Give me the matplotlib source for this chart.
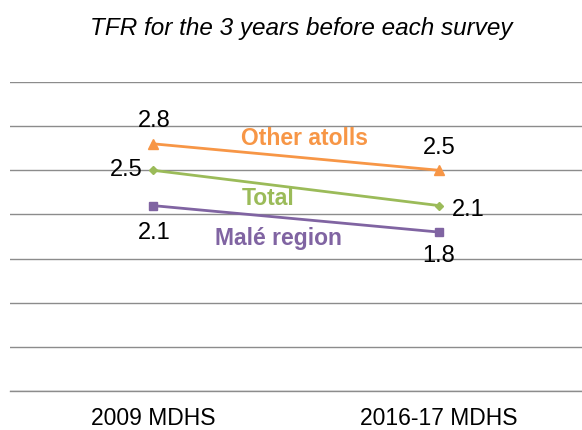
import numpy as np
import matplotlib.pyplot as plt

plt.rcParams["font.family"] = ["Liberation Sans", "DejaVu Sans"]

# data
surveys = ["2009 MDHS", "2016-17 MDHS"]
other_atolls = [2.8, 2.5]
total = [2.5, 2.1]
male_region = [2.1, 1.8]

orange = "#F79646"
green = "#9BBB59"
purple = "#8064A2"

W, H = 582, 430
fig = plt.figure(figsize=(W / 100, H / 100), dpi=100)
ax = fig.add_axes([10 / W, 1 - 391 / H, 572 / W, (391 - 82) / H])

x = np.arange(len(surveys))
ax.plot(x, other_atolls, color=orange, lw=2, marker="^", ms=6.5, zorder=3)
ax.plot(x, total, color=green, lw=2, marker="D", ms=4.5, zorder=3)
ax.plot(x, male_region, color=purple, lw=2, marker="s", ms=5.5, zorder=3)

ax.set_xlim(-0.5, 1.5)
ax.set_ylim(0, 3.5)
ax.set_yticks(np.arange(0, 3.51, 0.5))
ax.yaxis.grid(True, color="#8c8c8c", lw=1)
ax.tick_params(axis="y", left=False, labelleft=False)
ax.tick_params(axis="x", bottom=False, labelsize=16.5, pad=8)
ax.set_xticks(x)
ax.set_xticklabels(surveys)
for s in ["top", "left", "right"]:
    ax.spines[s].set_visible(False)
ax.spines["bottom"].set_color("#8c8c8c")
ax.spines["bottom"].set_linewidth(1)

# value labels
fs = 17
ax.annotate(f"{other_atolls[0]}", (x[0], other_atolls[0]), xytext=(1, 16.5),
            textcoords="offset points", ha="center", va="center", fontsize=fs)
ax.annotate(f"{other_atolls[1]}", (x[1], other_atolls[1]), xytext=(0, 16),
            textcoords="offset points", ha="center", va="center", fontsize=fs)
ax.annotate(f"{total[0]}", (x[0], total[0]), xytext=(-19, 0),
            textcoords="offset points", ha="center", va="center", fontsize=fs)
ax.annotate(f"{total[1]}", (x[1], total[1]), xytext=(21, -3),
            textcoords="offset points", ha="center", va="center", fontsize=fs)
ax.annotate(f"{male_region[0]}", (x[0], male_region[0]), xytext=(1, -20),
            textcoords="offset points", ha="center", va="center", fontsize=fs)
ax.annotate(f"{male_region[1]}", (x[1], male_region[1]), xytext=(0, -17.5),
            textcoords="offset points", ha="center", va="center", fontsize=fs)

# series labels
ax.text(0.528, 2.865, "Other atolls", color=orange, fontsize=16.5, fontweight="bold",
        ha="center", va="center")
ax.text(0.402, 2.186, "Total", color=green, fontsize=16.5, fontweight="bold",
        ha="center", va="center")
ax.text(0.44, 1.733, "Malé region", color=purple, fontsize=16.5, fontweight="bold",
        ha="center", va="center")

fig.text(301 / W, 1 - 28 / H, "TFR for the 3 years before each survey",
         ha="center", va="center", fontsize=17.5, style="italic")

fig.savefig("out.png", dpi=100)
